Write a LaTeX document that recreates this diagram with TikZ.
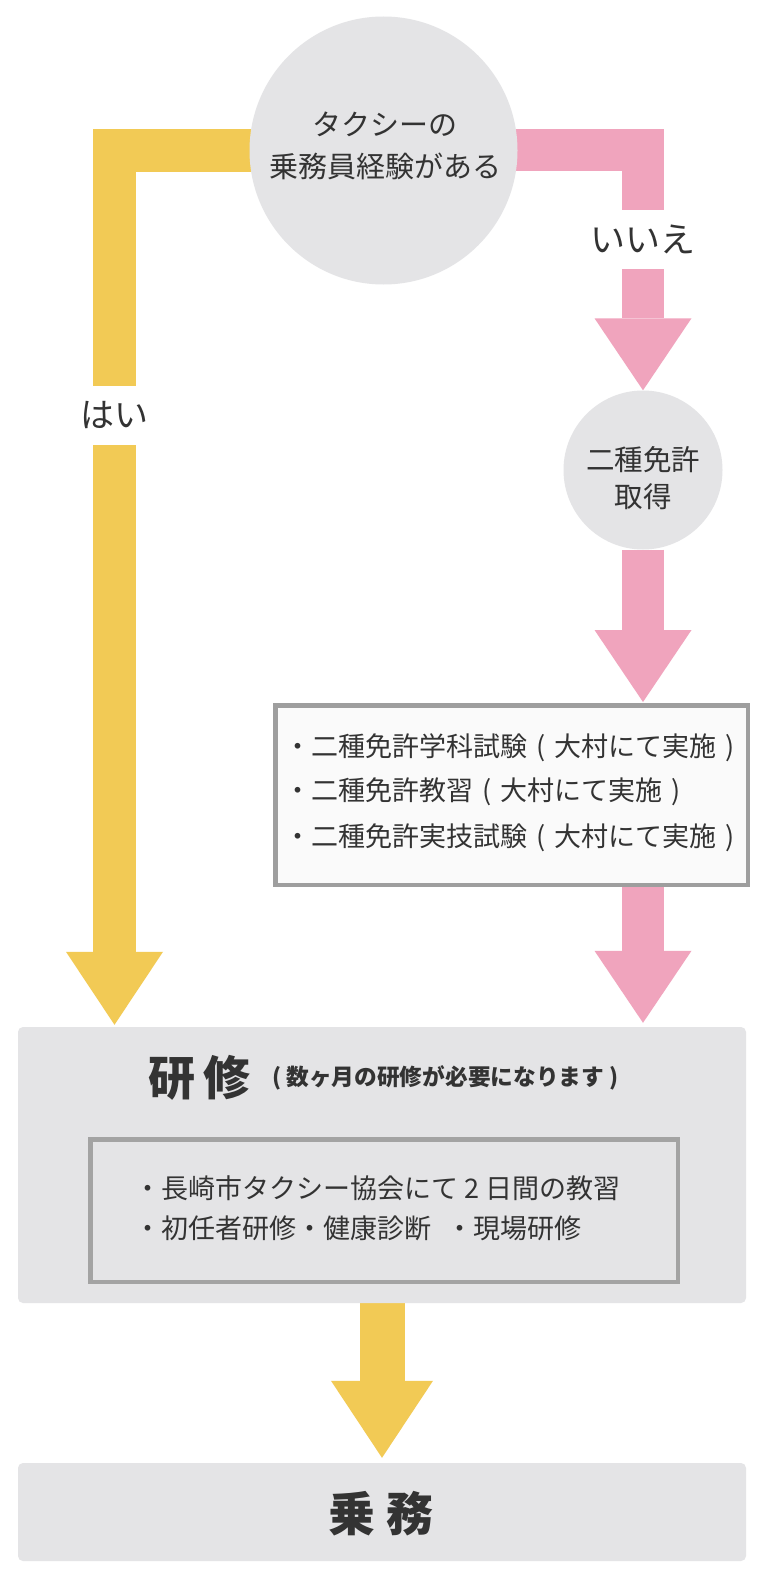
\documentclass[tikz,border=0pt]{standalone}
\usepackage{fontspec}
\setmainfont{Noto Sans CJK JP}
\usetikzlibrary{arrows.meta,calc}
\definecolor{cY}{HTML}{F2CA55}
\definecolor{cP}{HTML}{F0A4BD}
\definecolor{cG}{HTML}{E4E4E6}
\definecolor{cB}{HTML}{9E9E9E}
\definecolor{cBB}{HTML}{A3A3A3}
\definecolor{cT}{HTML}{333333}
\definecolor{cL}{HTML}{FAFAFA}
\pgfdeclarelayer{bg}
\pgfsetlayers{bg,main}
\newcommand{\fsz}[2]{\fontsize{#1}{#2}\selectfont}
\newcommand{\gp}{\hspace{9pt}}
\tikzset{
  txt/.style={inner sep=0pt, text=cT},
  lab/.style={inner sep=0pt, text=cT, fill=white, minimum height=59pt},
  disc/.style={circle, fill=cG, inner sep=0pt},
  panel/.style={rectangle, fill=cG, rounded corners=5pt, inner sep=0pt},
  framebox/.style={rectangle, line width=4.5pt, inner sep=0pt},
  ybar/.style={draw=cY, line width=43pt, -{Triangle[length=73pt,width=97pt,line width=0pt]}},
  pbar/.style={draw=cP, line width=42pt, -{Triangle[length=72pt,width=97pt,line width=0pt]}},
  ybarb/.style={draw=cY, line width=45pt, -{Triangle[length=77pt,width=102pt,line width=0pt]}},
}
\begin{document}
\begin{tikzpicture}[x=1pt,y=-1pt]
\begin{pgfonlayer}{bg}
\fill[white] (0,0) rectangle (767,1581);
\end{pgfonlayer}
\useasboundingbox (0,0) rectangle (767,1581);

% nodes
\node[disc, minimum size=268pt] (q) at (383.5,150.5) {};
\node[txt, font=\fsz{29pt}{42pt}, align=center] (qt) at (385,146) {タクシーの\\乗務員経験がある};

\node[disc, minimum size=159pt] (lic) at (643,470) {};
\node[txt, font=\fsz{28.5pt}{37pt}, align=center] (lict) at (643,478.5) {二種免許\\取得};

\node[framebox, fill=cL, draw=cB, minimum width=472.5pt, minimum height=179.5pt] (list) at (511.5,795) {};
\node[txt, font=\fsz{27pt}{27pt}, anchor=west] (l1) at (284,748) {・二種免許学科試験\gp(\gp 大村にて実施\gp)};
\node[txt, font=\fsz{27pt}{27pt}, anchor=west] (l2) at (284,792) {・二種免許教習\gp(\gp 大村にて実施\gp)};
\node[txt, font=\fsz{27pt}{27pt}, anchor=west] (l3) at (284,838) {・二種免許実技試験\gp(\gp 大村にて実施\gp)};

\node[panel, minimum width=728pt, minimum height=276pt] (training) at (382,1165) {};
\node[txt, font={\bfseries\fsz{47pt}{47pt}}, anchor=west] (tt) at (148,1078) {研\hspace{8pt}修};
\node[txt, font={\bfseries\fsz{22.7pt}{23pt}}, anchor=west] (ts) at (272,1078) {( 数ヶ月の研修が必要になります )};
\node[framebox, fill=cG, draw=cBB, minimum width=587.5pt, minimum height=142.5pt] (inner) at (384,1210.5) {};
\node[txt, font=\fsz{27pt}{27pt}, anchor=west] (i1) at (134,1188) {・長崎市タクシー協会にて 2 日間の教習};
\node[txt, font=\fsz{27pt}{27pt}, anchor=west] (i2) at (134,1228) {・初任者研修・健康診断\hspace{15pt}・現場研修};

\node[panel, minimum width=728pt, minimum height=98pt] (final) at (382,1512) {};
\node[txt, font={\bfseries\fsz{47pt}{47pt}}] (ft) at (381,1514) {乗\hspace{11pt}務};

\coordinate (ycx) at (114.5,0);

% connectors
\begin{pgfonlayer}{bg}
\draw[ybar, shorten >=2pt] (q.center) -| (training.north -| ycx);
\draw[pbar] (q.center) -| (lic.north);
\draw[pbar, shorten >=1pt] (lic.south) -- (list.north -| lic.south);
\draw[pbar, shorten >=4pt] (list.south -| lic.south) -- (training.north -| lic.south);
\draw[ybarb, shorten >=5pt] (training.south) -- (final.north);
\end{pgfonlayer}

\node[lab, font=\fsz{34pt}{34pt}] (hai) at (114.5,415.5) {はい};
\node[lab, font=\fsz{35pt}{35pt}] (iie) at (643,239.5) {いいえ};
\end{tikzpicture}
\end{document}
